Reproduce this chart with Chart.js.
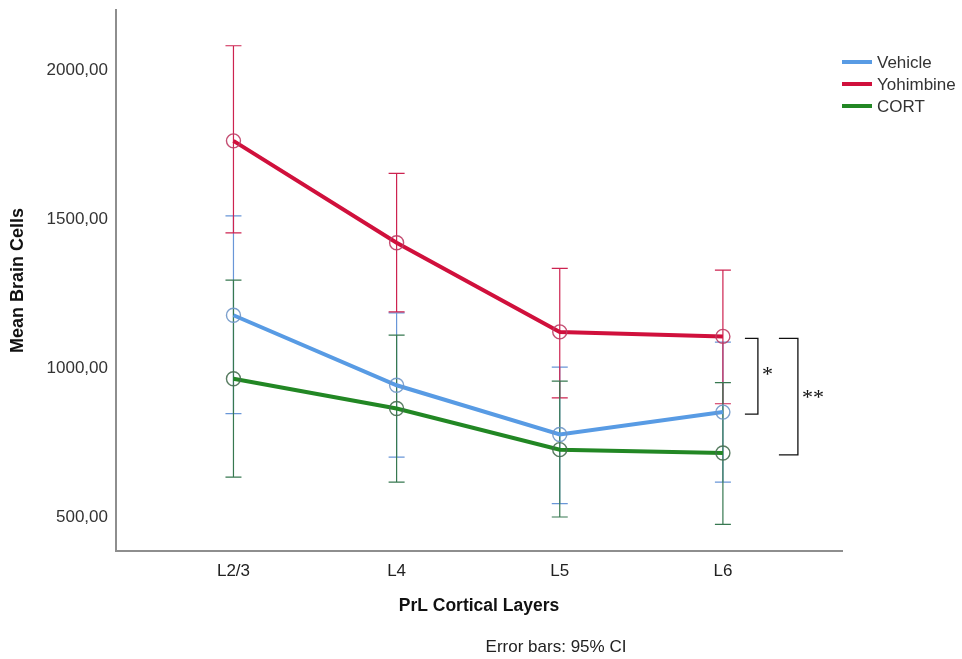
<!DOCTYPE html>
<html><head><meta charset="utf-8">
<script src="https://cdn.jsdelivr.net/npm/chart.js@4.4.1/dist/chart.umd.min.js"></script>
<style>html,body{margin:0;padding:0;background:#fff;}canvas{display:block;}</style>
</head><body>
<canvas id="c" width="962" height="659"></canvas>
<script>
// ---- data ----
const categories = ['L2/3', 'L4', 'L5', 'L6'];
const seriesNames = ['Vehicle', 'Yohimbine', 'CORT'];
const vehicleMean = [1177, 942, 777, 852];
const vehicleLow  = [847, 701, 545, 617];
const vehicleHigh = [1510, 1185, 1003, 1087];
const yohimbineMean = [1762, 1420, 1121, 1106];
const yohimbineLow  = [1453, 1188, 900, 880];
const yohimbineHigh = [2081, 1653, 1334, 1328];
const cortMean = [964, 864, 726, 715];
const cortLow  = [634, 617, 500, 475];
const cortHigh = [1295, 1110, 956, 951];
const yTicks = [500, 1000, 1500, 2000];
const significance = [
  { from: 'Yohimbine', to: 'Vehicle', label: '*' },
  { from: 'Yohimbine', to: 'CORT', label: '**' }
];
const xTitle = 'PrL Cortical Layers';
const yTitle = 'Mean Brain Cells';
const footnote = 'Error bars: 95% CI';

// ---- styles ----
const SANS = "'Liberation Sans', Arial, sans-serif";
const styles = {
  Vehicle:   { line: 'rgb(88,155,228)', bar: 'rgb(105,150,215)', pt: 'rgba(110,150,200,0.9)' },
  Yohimbine: { line: 'rgb(208,16,60)',  bar: 'rgb(205,35,80)',   pt: 'rgba(190,60,100,0.9)' },
  CORT:      { line: 'rgb(34,135,36)',  bar: 'rgb(55,120,80)',   pt: 'rgba(70,110,80,0.9)' }
};
const means = [vehicleMean, yohimbineMean, cortMean];
const lows = [vehicleLow, yohimbineLow, cortLow];
const highs = [vehicleHigh, yohimbineHigh, cortHigh];

const datasets = seriesNames.map((name, s) => ({
  label: name,
  data: means[s].map((v, i) => ({ x: i, y: v })),
  lo: lows[s], hi: highs[s],
  borderColor: styles[name].line,
  borderWidth: 4,
  pointRadius: 7,
  pointBorderWidth: 1.4,
  pointBorderColor: styles[name].pt,
  pointBackgroundColor: 'rgba(0,0,0,0)',
  tension: 0,
  fill: false,
  order: s
}));

const errorBars = {
  id: 'errorBars',
  beforeDatasetsDraw(chart) {
    const { ctx, scales: { x, y } } = chart;
    ctx.save();
    ctx.lineWidth = 1.2;
    chart.data.datasets.forEach(ds => {
      ctx.strokeStyle = styles[ds.label].bar;
      ds.data.forEach((p, i) => {
        const px = x.getPixelForValue(p.x);
        const yl = y.getPixelForValue(ds.lo[i]);
        const yh = y.getPixelForValue(ds.hi[i]);
        ctx.beginPath();
        ctx.moveTo(px, yl); ctx.lineTo(px, yh);
        ctx.moveTo(px - 8, yl); ctx.lineTo(px + 8, yl);
        ctx.moveTo(px - 8, yh); ctx.lineTo(px + 8, yh);
        ctx.stroke();
      });
    });
    ctx.restore();
  }
};

const extras = {
  id: 'extras',
  afterDraw(chart) {
    const { ctx, scales: { x, y } } = chart;
    ctx.save();
    // legend
    ctx.font = '17px ' + SANS;
    ctx.textBaseline = 'middle';
    ctx.textAlign = 'left';
    chart.data.datasets.forEach((ds, k) => {
      const ly = 62 + k * 22;
      ctx.strokeStyle = styles[ds.label].line;
      ctx.lineWidth = 4;
      ctx.beginPath(); ctx.moveTo(842, ly); ctx.lineTo(872, ly); ctx.stroke();
      ctx.fillStyle = '#333';
      ctx.fillText(ds.label, 877, ly + 1);
    });
    // significance brackets at last category
    const last = categories.length - 1;
    const xl = x.getPixelForValue(last);
    significance.forEach((sg, k) => {
      const a = chart.data.datasets.find(d => d.label === sg.from);
      const b = chart.data.datasets.find(d => d.label === sg.to);
      const y1 = y.getPixelForValue(a.data[last].y) + 2;
      const y2 = y.getPixelForValue(b.data[last].y) + 2;
      const x0 = xl + (k === 0 ? 22 : 56);
      const x1 = xl + (k === 0 ? 35 : 75);
      ctx.strokeStyle = '#111';
      ctx.lineWidth = 1.3;
      ctx.beginPath();
      ctx.moveTo(x0, y1); ctx.lineTo(x1, y1); ctx.lineTo(x1, y2); ctx.lineTo(x0, y2);
      ctx.stroke();
      ctx.fillStyle = '#111';
      ctx.font = '22px "Liberation Serif", "DejaVu Serif", serif';
      ctx.textAlign = 'left';
      ctx.textBaseline = 'middle';
      ctx.fillText(sg.label, x1 + 4, (y1 + y2) / 2 + (k === 0 ? -1 : 2));
    });
    // footnote
    ctx.fillStyle = '#222';
    ctx.font = '17px ' + SANS;
    ctx.textAlign = 'center';
    ctx.textBaseline = 'middle';
    ctx.fillText(footnote, 556, 647);
    ctx.restore();
  }
};

new Chart(document.getElementById('c'), {
  type: 'line',
  data: { datasets },
  options: {
    responsive: false,
    animation: false,
    devicePixelRatio: 1,
    layout: { padding: { left: 0, top: 10, right: 120, bottom: 0 } },
    plugins: { legend: { display: false }, tooltip: { enabled: false } },
    scales: {
      x: {
        type: 'linear', min: -0.72, max: 3.73,
        afterBuildTicks: s => { s.ticks = categories.map((c, i) => ({ value: i })); },
        afterFit: s => { s.height = 108; s.paddingLeft = 0; s.paddingRight = 0; },
        grid: { display: false, drawTicks: false },
        border: { display: true, color: '#8e8e8e', width: 2 },
        ticks: {
          callback: v => categories[v], color: '#222', autoSkip: false, maxRotation: 0,
          font: { family: SANS, size: 17 }, padding: 10
        },
        title: {
          display: true, text: xTitle, color: '#111',
          font: { family: SANS, size: 17.5, weight: 'bold' }, padding: { top: 0, bottom: 42 }
        }
      },
      y: {
        min: 386, max: 2201,
        afterBuildTicks: s => { s.ticks = yTicks.map(v => ({ value: v })); },
        afterFit: s => { s.width = 116; s.paddingTop = 0; s.paddingBottom = 0; },
        grid: { display: false, drawTicks: false },
        border: { display: true, color: '#8e8e8e', width: 2 },
        ticks: {
          callback: v => v.toFixed(2).replace('.', ','), color: '#333',
          font: { family: SANS, size: 17 }, padding: 8
        },
        title: {
          display: true, text: yTitle, color: '#111',
          font: { family: SANS, size: 18, weight: 'bold' }, padding: { top: 7, bottom: 0 }
        }
      }
    }
  },
  plugins: [errorBars, extras]
});
</script>
</body></html>
